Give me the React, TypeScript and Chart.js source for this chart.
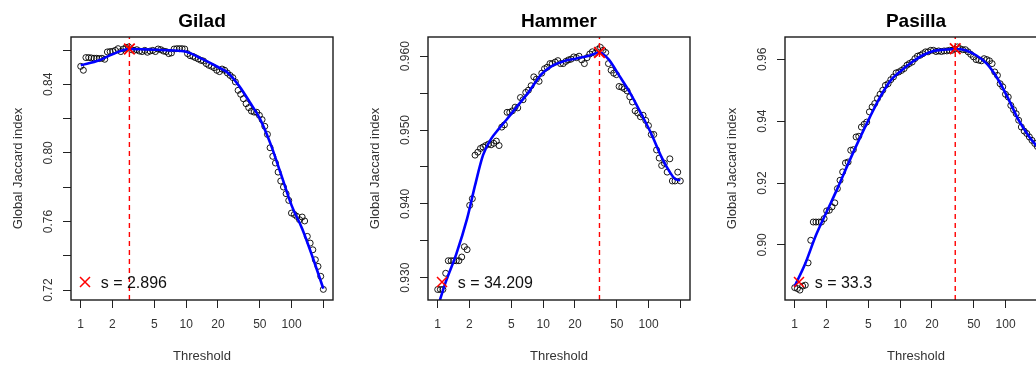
import React, { useEffect, useRef } from 'react';
import { Chart, registerables } from 'chart.js';

Chart.register(...registerables);

// Thresholds tested (log-spaced, 1 to 200)
const THRESHOLDS = [
  1.00, 1.06, 1.12, 1.19, 1.26, 1.34, 1.42, 1.50, 1.59, 1.69,
  1.79, 1.90, 2.01, 2.13, 2.26, 2.40, 2.54, 2.69, 2.85, 3.03,
  3.21, 3.40, 3.60, 3.82, 4.05, 4.29, 4.55, 4.82, 5.11, 5.42,
  5.74, 6.09, 6.45, 6.84, 7.25, 7.69, 8.15, 8.64, 9.15, 9.70,
  10.3, 10.9, 11.6, 12.2, 13.0, 13.8, 14.6, 15.5, 16.4, 17.4,
  18.4, 19.5, 20.7, 21.9, 23.2, 24.6, 26.1, 27.7, 29.3, 31.1,
  32.9, 34.9, 37.0, 39.2, 41.6, 44.1, 46.7, 49.5, 52.5, 55.7,
  59.0, 62.5, 66.3, 70.3, 74.5, 78.9, 83.7, 88.7, 94.0, 99.7,
  106, 112, 119, 126, 133, 141, 150, 159, 168, 178,
  189, 200,
];

// Global Jaccard index per threshold
const GILAD_JACCARD = [
  0.8505, 0.8482, 0.8556, 0.8556, 0.8554, 0.8552, 0.8552, 0.8550, 0.8552, 0.8546,
  0.8589, 0.8591, 0.8592, 0.8598, 0.8608, 0.8591, 0.8606, 0.8614, 0.8618, 0.8602,
  0.8598, 0.8602, 0.8594, 0.8591, 0.8598, 0.8587, 0.8594, 0.8598, 0.8591, 0.8606,
  0.8602, 0.8594, 0.8591, 0.8579, 0.8583, 0.8606, 0.8608, 0.8608, 0.8608, 0.8606,
  0.8579, 0.8567, 0.8563, 0.8556, 0.8548, 0.8540, 0.8536, 0.8521, 0.8511, 0.8505,
  0.8497, 0.8482, 0.8474, 0.8489, 0.8482, 0.8466, 0.8452, 0.8439, 0.8414, 0.8365,
  0.8342, 0.8316, 0.8287, 0.8264, 0.8244, 0.8238, 0.8237, 0.8219, 0.8194, 0.8155,
  0.8108, 0.8030, 0.7980, 0.7941, 0.7888, 0.7836, 0.7801, 0.7762, 0.7723, 0.7649,
  0.7641, 0.7630, 0.7610, 0.7626, 0.7603, 0.7513, 0.7474, 0.7435, 0.7377, 0.7338,
  0.7280, 0.7204,
];

const HAMMER_JACCARD = [
  0.9284, 0.9284, 0.9284, 0.9306, 0.9323, 0.9323, 0.9323, 0.9323, 0.9323, 0.9328,
  0.9342, 0.9338, 0.9398, 0.9407, 0.9466, 0.9470, 0.9475, 0.9477, 0.9479, 0.9481,
  0.9480, 0.9482, 0.9485, 0.9479, 0.9504, 0.9507, 0.9524, 0.9524, 0.9526, 0.9531,
  0.9530, 0.9544, 0.9541, 0.9551, 0.9554, 0.9560, 0.9572, 0.9569, 0.9566, 0.9577,
  0.9583, 0.9585, 0.9590, 0.9590, 0.9592, 0.9594, 0.9590, 0.9590, 0.9593, 0.9595,
  0.9596, 0.9599, 0.9598, 0.9600, 0.9595, 0.9590, 0.9598, 0.9603, 0.9606, 0.9604,
  0.9609, 0.9612, 0.9608, 0.9605, 0.9590, 0.9581, 0.9577, 0.9575, 0.9559, 0.9558,
  0.9556, 0.9553, 0.9545, 0.9538, 0.9526, 0.9523, 0.9518, 0.9520, 0.9513, 0.9506,
  0.9494, 0.9494, 0.9473, 0.9462, 0.9452, 0.9455, 0.9443, 0.9461, 0.9431, 0.9431,
  0.9443, 0.9431,
];

const PASILLA_JACCARD = [
  0.8862, 0.8859, 0.8854, 0.8867, 0.8870, 0.8942, 0.9015, 0.9074, 0.9074, 0.9074,
  0.9074, 0.9085, 0.9110, 0.9112, 0.9123, 0.9136, 0.9182, 0.9209, 0.9236, 0.9265,
  0.9268, 0.9306, 0.9308, 0.9349, 0.9351, 0.9381, 0.9390, 0.9397, 0.9430, 0.9446,
  0.9457, 0.9473, 0.9487, 0.9500, 0.9516, 0.9521, 0.9534, 0.9543, 0.9556, 0.9559,
  0.9564, 0.9570, 0.9581, 0.9586, 0.9591, 0.9602, 0.9610, 0.9613, 0.9618, 0.9624,
  0.9624, 0.9629, 0.9629, 0.9625, 0.9627, 0.9625, 0.9627, 0.9627, 0.9629, 0.9629,
  0.9633, 0.9640, 0.9634, 0.9631, 0.9631, 0.9624, 0.9616, 0.9608, 0.9599, 0.9597,
  0.9595, 0.9602, 0.9599, 0.9595, 0.9586, 0.9559, 0.9548, 0.9521, 0.9511, 0.9487,
  0.9478, 0.9451, 0.9437, 0.9424, 0.9403, 0.9381, 0.9368, 0.9360, 0.9349, 0.9338,
  0.9328, 0.9318,
];

// Smoothed fits (knots of the fitted curve)
const GILAD_FIT_X = [1, 1.5, 2, 2.896, 4, 5, 7, 10, 14, 20, 25, 32, 40, 50, 63, 79, 100, 126, 158, 200];
const GILAD_FIT_Y = [0.8511, 0.8540, 0.8575, 0.8606, 0.8604, 0.8602, 0.8598, 0.8590, 0.8550, 0.8501, 0.8466, 0.8388, 0.8297, 0.8200, 0.8054, 0.7879, 0.7694, 0.7558, 0.7393, 0.7208];

const HAMMER_FIT_X = [1, 1.19, 1.5, 1.9, 2.26, 2.69, 3.21, 3.82, 4.55, 5.74, 7.25, 9.7, 12.2, 15.5, 20.7, 27.7, 34.209, 41.6, 52.5, 66.3, 83.7, 106, 133, 159, 178, 200];
const HAMMER_FIT_Y = [0.9260, 0.9294, 0.9332, 0.9380, 0.9425, 0.9466, 0.9488, 0.9502, 0.9515, 0.9533, 0.9551, 0.9576, 0.9587, 0.9593, 0.9597, 0.9601, 0.9605, 0.9596, 0.9574, 0.9551, 0.9524, 0.9495, 0.9463, 0.9443, 0.9434, 0.9432];

const PASILLA_FIT_X = [1, 1.26, 1.59, 2.01, 2.54, 3.21, 4.05, 5.11, 6.45, 8.15, 10.3, 13.0, 16.4, 20.7, 26.1, 33.3, 41.6, 52.5, 66.3, 83.7, 106, 133, 168, 200];
const PASILLA_FIT_Y = [0.8867, 0.8940, 0.9031, 0.9107, 0.9182, 0.9262, 0.9338, 0.9410, 0.9478, 0.9532, 0.9564, 0.9591, 0.9613, 0.9627, 0.9631, 0.9633, 0.9629, 0.9613, 0.9586, 0.9538, 0.9473, 0.9403, 0.9349, 0.9317];

// Best threshold and the Jaccard index at that point
const GILAD_BEST = { s: 2.896, label: '2.896', y: 0.8606 };
const HAMMER_BEST = { s: 34.209, label: '34.209', y: 0.9605 };
const PASILLA_BEST = { s: 33.3, label: '33.3', y: 0.9634 };

// Axes
const X_RANGE = [0.809, 247];
const X_TICKS = [1, 2, 5, 10, 20, 50, 100, 200];
const X_TICK_LABELS = ['1', '2', '5', '10', '20', '50', '100', ''];

const GILAD_Y_RANGE = [0.7142, 0.8676];
const GILAD_Y_TICKS = [0.72, 0.74, 0.76, 0.78, 0.80, 0.82, 0.84, 0.86];
const GILAD_Y_LABELS = ['0.72', '', '0.76', '', '0.80', '', '0.84', ''];

const HAMMER_Y_RANGE = [0.92698, 0.9626];
const HAMMER_Y_TICKS = [0.930, 0.935, 0.940, 0.945, 0.950, 0.955, 0.960];
const HAMMER_Y_LABELS = ['0.930', '', '0.940', '', '0.950', '', '0.960'];

const PASILLA_Y_RANGE = [0.8822, 0.9672];
const PASILLA_Y_TICKS = [0.90, 0.92, 0.94, 0.96];
const PASILLA_Y_LABELS = ['0.90', '0.92', '0.94', '0.96'];

const FONT = '"Liberation Sans", Arial, Helvetica, sans-serif';
const PANEL_W = 357;
const PANEL_H = 365;

type PanelSpec = {
  title: string;
  values: number[];
  fitX: number[];
  fitY: number[];
  best: { s: number; label: string; y: number };
  yRange: number[];
  yTicks: number[];
  yLabels: string[];
};

const PANELS: PanelSpec[] = [
  { title: 'Gilad', values: GILAD_JACCARD, fitX: GILAD_FIT_X, fitY: GILAD_FIT_Y, best: GILAD_BEST, yRange: GILAD_Y_RANGE, yTicks: GILAD_Y_TICKS, yLabels: GILAD_Y_LABELS },
  { title: 'Hammer', values: HAMMER_JACCARD, fitX: HAMMER_FIT_X, fitY: HAMMER_FIT_Y, best: HAMMER_BEST, yRange: HAMMER_Y_RANGE, yTicks: HAMMER_Y_TICKS, yLabels: HAMMER_Y_LABELS },
  { title: 'Pasilla', values: PASILLA_JACCARD, fitX: PASILLA_FIT_X, fitY: PASILLA_FIT_Y, best: PASILLA_BEST, yRange: PASILLA_Y_RANGE, yTicks: PASILLA_Y_TICKS, yLabels: PASILLA_Y_LABELS },
];

function makeDecorPlugin(spec: PanelSpec) {
  return {
    id: 'panelDecor',
    afterDraw(chart: any) {
      const { ctx, chartArea } = chart;
      const { left, right, top, bottom } = chartArea;
      const xs = chart.scales.x;
      const ys = chart.scales.y;
      ctx.save();

      // plot box
      ctx.strokeStyle = '#1a1a1a';
      ctx.lineWidth = 1.4;
      ctx.strokeRect(left, top, right - left, bottom - top);

      // y tick labels (rotated, as in base graphics)
      ctx.fillStyle = '#333';
      ctx.font = `12px ${FONT}`;
      ctx.textAlign = 'center';
      ctx.textBaseline = 'alphabetic';
      spec.yTicks.forEach((v, i) => {
        const label = spec.yLabels[i];
        if (!label) return;
        const y = ys.getPixelForValue(v);
        ctx.save();
        ctx.translate(left - 19.5, y);
        ctx.rotate(-Math.PI / 2);
        ctx.fillText(label, 0, 0);
        ctx.restore();
      });

      // x tick labels
      X_TICKS.forEach((v, i) => {
        const label = X_TICK_LABELS[i];
        if (!label) return;
        ctx.fillText(label, xs.getPixelForValue(v), 328);
      });

      // axis titles
      ctx.font = `13px ${FONT}`;
      ctx.fillText('Threshold', (left + right) / 2, 360);
      ctx.save();
      ctx.translate(21.5, (top + bottom) / 2);
      ctx.rotate(-Math.PI / 2);
      ctx.fillText('Global Jaccard index', 0, 0);
      ctx.restore();

      // main title
      ctx.fillStyle = '#000';
      ctx.font = `bold 19px ${FONT}`;
      ctx.fillText(spec.title, (left + right) / 2, 26.5);

      // legend: cross symbol + best threshold
      const lx = left + 14;
      const ly = bottom - 18;
      ctx.strokeStyle = '#FF0000';
      ctx.lineWidth = 1.5;
      ctx.beginPath();
      ctx.moveTo(lx - 5, ly - 5);
      ctx.lineTo(lx + 5, ly + 5);
      ctx.moveTo(lx + 5, ly - 5);
      ctx.lineTo(lx - 5, ly + 5);
      ctx.stroke();
      ctx.fillStyle = '#111';
      ctx.font = `16px ${FONT}`;
      ctx.textAlign = 'left';
      ctx.fillText(`s = ${spec.best.label}`, left + 29.7, ly + 5.5);

      ctx.restore();
    },
  };
}

function Panel({ spec, offset }: { spec: PanelSpec; offset: number }) {
  const ref = useRef<HTMLCanvasElement>(null);

  useEffect(() => {
    const canvas = ref.current;
    if (!canvas) return;
    const axisGrid = {
      drawOnChartArea: false,
      drawTicks: true,
      tickLength: 8,
      color: '#222',
      lineWidth: 1,
    };
    const chart = new Chart(canvas, {
      type: 'scatter',
      data: {
        datasets: [
          {
            label: 'best',
            data: [{ x: spec.best.s, y: spec.best.y }],
            pointStyle: 'crossRot',
            pointRadius: 7.5,
            pointBorderColor: '#FF0000',
            pointBorderWidth: 1.8,
            pointBackgroundColor: '#FF0000',
            showLine: false,
            order: 0,
          },
          {
            label: 'cutoff',
            data: [
              { x: spec.best.s, y: spec.yRange[0] },
              { x: spec.best.s, y: spec.yRange[1] },
            ],
            showLine: true,
            borderColor: '#FF0000',
            borderWidth: 1.4,
            borderDash: [5, 4],
            pointRadius: 0,
            order: 1,
          },
          {
            label: 'fit',
            data: spec.fitX.map((x, i) => ({ x, y: spec.fitY[i] })),
            showLine: true,
            borderColor: '#0000FF',
            borderWidth: 2.6,
            cubicInterpolationMode: 'monotone',
            pointRadius: 0,
            order: 2,
          },
          {
            label: 'jaccard',
            data: THRESHOLDS.map((t, i) => ({ x: t, y: spec.values[i] })),
            showLine: false,
            pointStyle: 'circle',
            pointRadius: 3,
            pointBorderWidth: 1,
            pointBorderColor: 'rgba(0,0,0,0.9)',
            pointBackgroundColor: 'rgba(0,0,0,0)',
            order: 3,
          },
        ],
      },
      options: {
        animation: false,
        responsive: false,
        devicePixelRatio: 1,
        events: [],
        layout: { padding: { top: 37, right: 24, bottom: 0, left: 0 } },
        plugins: {
          legend: { display: false },
          tooltip: { enabled: false },
          title: { display: false },
        },
        scales: {
          x: {
            type: 'logarithmic',
            position: 'bottom',
            min: X_RANGE[0],
            max: X_RANGE[1],
            afterBuildTicks: (scale: any) => {
              scale.ticks = X_TICKS.map((v) => ({ value: v }));
            },
            afterFit: (scale: any) => {
              scale.height = 65;
            },
            ticks: { display: false },
            grid: axisGrid,
            border: { display: false },
          },
          y: {
            type: 'linear',
            position: 'left',
            min: spec.yRange[0],
            max: spec.yRange[1],
            afterBuildTicks: (scale: any) => {
              scale.ticks = spec.yTicks.map((v) => ({ value: v }));
            },
            afterFit: (scale: any) => {
              scale.width = 71;
            },
            ticks: { display: false },
            grid: axisGrid,
            border: { display: false },
          },
        },
      },
      plugins: [makeDecorPlugin(spec)],
    } as any);
    return () => chart.destroy();
  }, [spec]);

  return (
    <canvas
      ref={ref}
      width={PANEL_W}
      height={PANEL_H}
      style={{ position: 'absolute', left: offset, top: 0, width: PANEL_W, height: PANEL_H }}
    />
  );
}

export default function App() {
  return (
    <div
      style={{
        position: 'fixed',
        left: 0,
        top: 0,
        width: 1036,
        height: 365,
        overflow: 'hidden',
        background: '#fff',
      }}
    >
      {PANELS.map((spec, i) => (
        <Panel key={spec.title} spec={spec} offset={i * PANEL_W} />
      ))}
    </div>
  );
}
